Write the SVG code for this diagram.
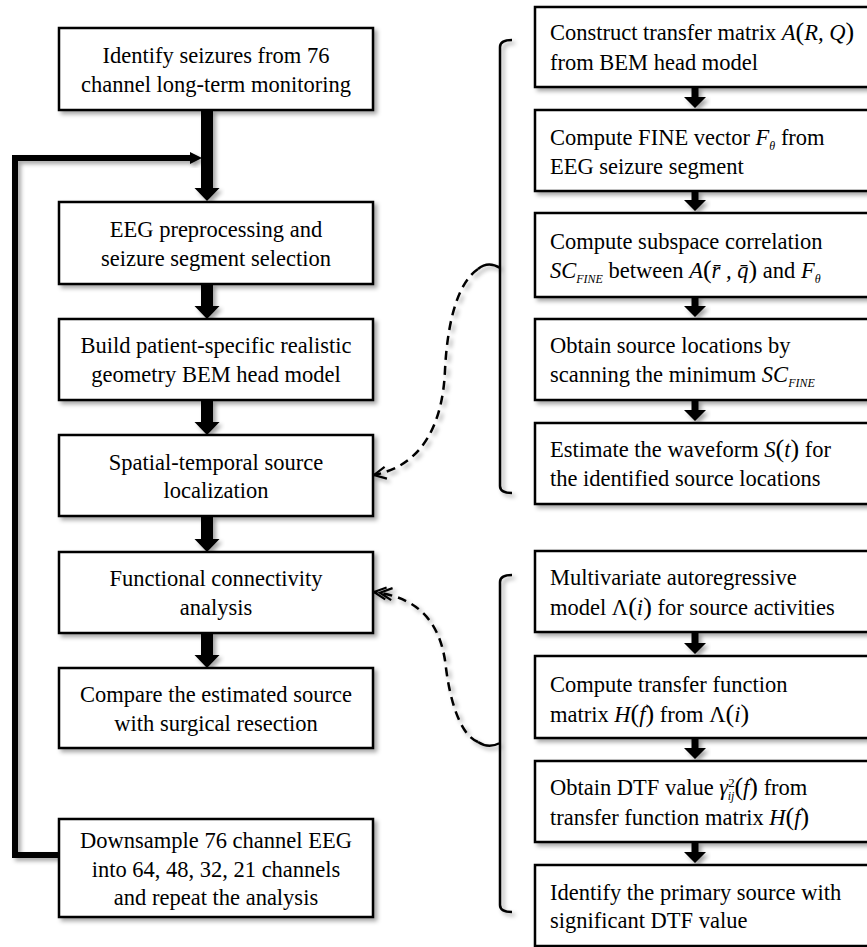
<svg xmlns="http://www.w3.org/2000/svg" width="867" height="947" viewBox="0 0 867 947">
<defs>
<filter id="sh" x="-10%" y="-10%" width="130%" height="140%">
<feDropShadow dx="3" dy="3" stdDeviation="2" flood-color="#000" flood-opacity="0.35"/>
</filter>
<marker id="chev" markerUnits="userSpaceOnUse" markerWidth="16" markerHeight="16" refX="13" refY="7" orient="auto" viewBox="0 0 16 14">
<path d="M1,1 L13,7 L1,13" fill="none" stroke="#000" stroke-width="2.2"/>
</marker>
<marker id="chev2" markerUnits="userSpaceOnUse" markerWidth="22" markerHeight="16" refX="19" refY="7" orient="auto" viewBox="0 0 22 14">
<path d="M7,1 L19,7 L7,13 M1,1 L13,7 L1,13" fill="none" stroke="#000" stroke-width="2.2"/>
</marker>
<style>
.box{fill:#fff;stroke:#000;stroke-width:2.5;filter:url(#sh)}
.t{font-family:"Liberation Serif","Times New Roman",serif;font-size:22.5px;fill:#000}
.c{text-anchor:middle}
.i{font-style:italic}
.sub{font-size:12px;font-style:italic}
.par{font-size:26px}
.arr{fill:#000;filter:url(#sh)}
.fb{fill:none;stroke:#000;stroke-width:6;filter:url(#sh)}
.br{fill:none;stroke:#000;stroke-width:2.5;filter:url(#sh)}
.dash{fill:none;stroke:#000;stroke-width:2.5;stroke-dasharray:9 6;filter:url(#sh)}
</style>
</defs>
<rect width="867" height="947" fill="#fff"/>

<g id="connectors">
<!-- left thick arrows -->
<polygon class="arr" points="201,110 213,110 213,188 219.5,188 207,201 194.5,188 201,188"/>
<polygon class="arr" points="201,284 213,284 213,306 219.5,306 207,319 194.5,306 201,306"/>
<polygon class="arr" points="201,400 213,400 213,422 219.5,422 207,435 194.5,422 201,422"/>
<polygon class="arr" points="201,516 213,516 213,539 219.5,539 207,552 194.5,539 201,539"/>
<polygon class="arr" points="201,633 213,633 213,655 219.5,655 207,668 194.5,655 201,655"/>
<!-- feedback loop -->
<path class="fb" d="M59,855 L15,855 L15,158 L192,158"/>
<polygon class="arr" points="190,152 202,158 190,164"/>
<!-- right arrows -->
<polygon class="arr" points="691.5,87 698.5,87 698.5,97 706,97 695,108 684,97 691.5,97"/>
<polygon class="arr" points="691.5,191 698.5,191 698.5,200 706,200 695,211 684,200 691.5,200"/>
<polygon class="arr" points="691.5,297 698.5,297 698.5,306 706,306 695,317 684,306 691.5,306"/>
<polygon class="arr" points="691.5,400 698.5,400 698.5,410 706,410 695,421 684,410 691.5,410"/>
<polygon class="arr" points="691.5,632 698.5,632 698.5,643 706,643 695,654 684,643 691.5,643"/>
<polygon class="arr" points="691.5,738 698.5,738 698.5,748 706,748 695,759 684,748 691.5,748"/>
<polygon class="arr" points="691.5,842 698.5,842 698.5,852 706,852 695,863 684,852 691.5,852"/>
<!-- brackets -->
<path class="br" d="M512,40 Q500,40 500,47 L500,486 Q500,493 512,493 M500,268 C492,263 484,264 478,269"/>
<path class="br" d="M512,575 Q500,575 500,582 L500,905 Q500,912 512,912 M500,743 C492,747 484,746 478,742"/>
<!-- dashed curves -->
<path class="dash" d="M478,269 C455,285 447,330 445,370 C443,420 425,465 374,475" marker-end="url(#chev)"/>
<path class="dash" d="M478,742 C460,735 450,700 446,668 C442,630 425,598 374,592" marker-end="url(#chev2)"/>
</g>

<g id="n1"><rect class="box" x="59" y="28" width="314" height="82"/>
<text class="t c" x="216" y="63">Identify seizures from 76</text>
<text class="t c" x="216" y="92">channel long-term monitoring</text></g>

<g id="n2"><rect class="box" x="59" y="202" width="314" height="82"/>
<text class="t c" x="216" y="237">EEG preprocessing and</text>
<text class="t c" x="216" y="266">seizure segment selection</text></g>

<g id="n3"><rect class="box" x="59" y="319" width="314" height="81"/>
<text class="t c" x="216" y="353">Build patient-specific realistic</text>
<text class="t c" x="216" y="382">geometry BEM head model</text></g>

<g id="n4"><rect class="box" x="59" y="435" width="314" height="81"/>
<text class="t c" x="216" y="470">Spatial-temporal source</text>
<text class="t c" x="216" y="498">localization</text></g>

<g id="n5"><rect class="box" x="59" y="552" width="314" height="81"/>
<text class="t c" x="216" y="586">Functional connectivity</text>
<text class="t c" x="216" y="615">analysis</text></g>

<g id="n6"><rect class="box" x="59" y="668" width="314" height="80"/>
<text class="t c" x="216" y="702">Compare the estimated source</text>
<text class="t c" x="216" y="731">with surgical resection</text></g>

<g id="n7"><rect class="box" x="59" y="819" width="314" height="98"/>
<text class="t c" x="216" y="848">Downsample 76 channel EEG</text>
<text class="t c" x="216" y="877">into 64, 48, 32, 21 channels</text>
<text class="t c" x="216" y="905">and repeat the analysis</text></g>

<g id="r1"><rect class="box" x="535" y="7" width="345" height="80"/>
<text class="t" x="550" y="40">Construct transfer matrix <tspan class="i">A</tspan><tspan class="par">(</tspan><tspan class="i">R, Q</tspan><tspan class="par">)</tspan></text>
<text class="t" x="550" y="70">from BEM head model</text></g>

<g id="r2"><rect class="box" x="535" y="110" width="345" height="81"/>
<text class="t" x="550" y="145">Compute FINE vector  <tspan class="i">F</tspan><tspan class="sub" dy="5">θ</tspan><tspan dy="-5">  from</tspan></text>
<text class="t" x="550" y="174">EEG seizure segment</text></g>

<g id="r3"><rect class="box" x="535" y="213" width="345" height="84"/>
<text class="t" x="550" y="249">Compute subspace correlation</text>
<text class="t" x="550" y="278"><tspan class="i">SC</tspan><tspan class="sub" dy="5">FINE</tspan><tspan dy="-5"> between </tspan><tspan class="i">A</tspan><tspan class="par">(</tspan><tspan class="i">r̄ , q̄</tspan><tspan class="par">)</tspan> and <tspan class="i">F</tspan><tspan class="sub" dy="5">θ</tspan></text></g>

<g id="r4"><rect class="box" x="535" y="319" width="345" height="81"/>
<text class="t" x="550" y="353">Obtain source locations by</text>
<text class="t" x="550" y="382">scanning the minimum <tspan class="i">SC</tspan><tspan class="sub" dy="5">FINE</tspan></text></g>

<g id="r5"><rect class="box" x="535" y="423" width="345" height="81"/>
<text class="t" x="550" y="457">Estimate the waveform <tspan class="i">S</tspan><tspan class="par">(</tspan><tspan class="i">t</tspan><tspan class="par">)</tspan>  for</text>
<text class="t" x="550" y="486">the identified source locations</text></g>

<g id="r6"><rect class="box" x="535" y="551" width="345" height="81"/>
<text class="t" x="550" y="585">Multivariate autoregressive</text>
<text class="t" x="550" y="615">model Λ<tspan class="par">(</tspan><tspan class="i">i</tspan><tspan class="par">)</tspan> for source activities</text></g>

<g id="r7"><rect class="box" x="535" y="656" width="345" height="82"/>
<text class="t" x="550" y="692">Compute transfer function</text>
<text class="t" x="550" y="722">matrix  <tspan class="i">H</tspan><tspan class="par">(</tspan><tspan class="i">f</tspan><tspan class="par">)</tspan> from Λ<tspan class="par">(</tspan><tspan class="i">i</tspan><tspan class="par">)</tspan></text></g>

<g id="r8"><rect class="box" x="535" y="761" width="345" height="81"/>
<text class="t" x="550" y="795">Obtain DTF value <tspan class="i">γ</tspan><tspan font-size="13px" dy="-8">2</tspan><tspan class="sub" font-size="13px" dx="-7" dy="13">ij</tspan><tspan class="par" dy="-5">(</tspan><tspan class="i">f</tspan><tspan class="par">)</tspan>  from</text>
<text class="t" x="550" y="825">transfer function matrix  <tspan class="i">H</tspan><tspan class="par">(</tspan><tspan class="i">f</tspan><tspan class="par">)</tspan></text></g>

<g id="r9"><rect class="box" x="535" y="865" width="345" height="81"/>
<text class="t" x="550" y="900">Identify the primary source with</text>
<text class="t" x="550" y="928">significant DTF value</text></g>
</svg>
